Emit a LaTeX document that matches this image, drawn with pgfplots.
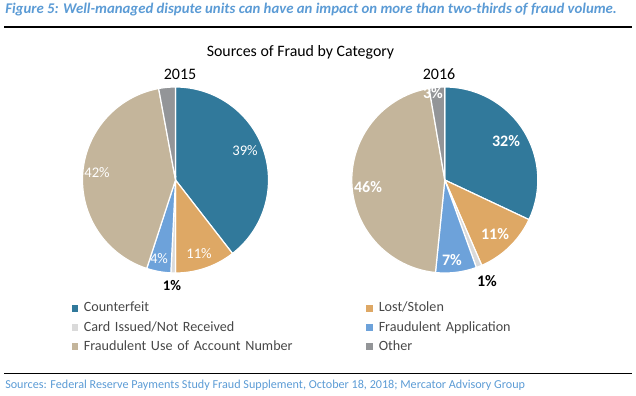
\documentclass[border=0pt]{standalone}
\usepackage{pgfplots}
\pgfplotsset{compat=1.18}
\usepackage{fontspec}
\setmainfont{Carlito}
\definecolor{cCounter}{HTML}{31799B}
\definecolor{cLost}{HTML}{DEA865}
\definecolor{cCard}{HTML}{DADADA}
\definecolor{cApp}{HTML}{6DA2DA}
\definecolor{cUse}{HTML}{C4B59B}
\definecolor{cOther}{HTML}{939598}
\definecolor{hdr}{HTML}{5B9BD5}
% slice: center x, center y, cumulative start (%), cumulative end (%), colour
\newcommand{\slice}[5]{%
  \addplot[fill=#5, draw=white, line width=0.9pt, domain={90-3.6*(#4)}:{90-3.6*(#3)},
    samples=80, variable=\t, forget plot]
    ({#1+93*cos(\t)},{#2+93*sin(\t)}) -- (axis cs:#1,#2) -- cycle;}
\begin{document}
\begin{tikzpicture}
\begin{axis}[width=477pt,height=297pt,scale only axis,
  xmin=0,xmax=636,ymin=0,ymax=396,axis lines=none,clip=false,
  legend columns=2,
  legend image code/.code={\fill[#1,draw=none] (0pt,-2.5pt) rectangle (5pt,2.5pt); \path (9pt,0pt);},
  legend style={draw=none,fill=none,inner sep=0pt,outer sep=0pt,
    at={(axis description cs:0.1125,0.2456)},anchor=north west,
    font=\fontsize{10.6}{12.5}\selectfont, text=black!72,
    nodes={anchor=west,inner xsep=0pt,inner ysep=1.9pt,text height=8pt,text depth=2.5pt,text width=212pt,align=left},
    row sep=0pt, column sep=0pt}]
\addlegendimage{fill=cCounter}\addlegendentry{Counterfeit}
\addlegendimage{fill=cLost}\addlegendentry{Lost/Stolen}
\addlegendimage{fill=cCard}\addlegendentry{Card Issued/Not Received}
\addlegendimage{fill=cApp}\addlegendentry{Fraudulent Application}
\addlegendimage{fill=cUse}\addlegendentry{Fraudulent Use of Account Number}
\addlegendimage{fill=cOther}\addlegendentry{Other}
% 2015: 39.5, 10.5, 0.8, 4.2, 42.1, 2.9
\slice{175.5}{216}{0}{39.5}{cCounter}
\slice{175.5}{216}{39.5}{39.5+10.5}{cLost}
\slice{175.5}{216}{50}{50+0.8}{cCard}
\slice{175.5}{216}{50.8}{50.8+4.2}{cApp}
\slice{175.5}{216}{55}{55+42.1}{cUse}
\slice{175.5}{216}{97.1}{97.1+2.9}{cOther}
% 2016: 32.0, 11.5, 1.0, 7.1, 45.7, 2.7
\slice{444.8}{216}{0}{32.0}{cCounter}
\slice{444.8}{216}{32.0}{32.0+11.5}{cLost}
\slice{444.8}{216}{43.5}{43.5+1.0}{cCard}
\slice{444.8}{216}{44.5}{44.5+7.1}{cApp}
\slice{444.8}{216}{51.6}{51.6+45.7}{cUse}
\slice{444.8}{216}{97.3}{97.3+2.7}{cOther}
% labels 2015
\begin{scope}[every node/.style={font=\fontsize{11}{13}\selectfont,text=white,inner sep=0pt}]
\node at (axis cs:245,245) {39\%};
\node at (axis cs:199,142) {11\%};
\node at (axis cs:159,137) {4\%};
\node at (axis cs:97,223) {42\%};
\end{scope}
\begin{scope}[every node/.style={font=\bfseries\fontsize{12}{14}\selectfont,text=white,inner sep=0pt}]
\node at (axis cs:506,255) {32\%};
\node at (axis cs:495,162) {11\%};
\node at (axis cs:452,136) {7\%};
\node at (axis cs:368,209) {46\%};
\node at (axis cs:433,303) {3\%};
\end{scope}
\node[font=\bfseries\fontsize{11}{13}\selectfont,inner sep=0pt] at (axis cs:172,110) {1\%};
\node[font=\bfseries\fontsize{12}{14}\selectfont,inner sep=0pt] at (axis cs:487,115) {1\%};
\node[font=\fontsize{12}{14}\selectfont,inner sep=0pt] at (axis cs:180,322) {2015};
\node[font=\fontsize{12}{14}\selectfont,inner sep=0pt] at (axis cs:439,322) {2016};
\node[font=\fontsize{11.9}{14}\selectfont,inner sep=0pt] at (axis cs:300.5,344) {Sources of Fraud by Category};
\node[font=\bfseries\itshape\fontsize{11.1}{13}\selectfont,text=hdr,anchor=west,inner sep=0pt] at (axis cs:5,386) {Figure 5: Well-managed dispute units can have an impact on more than two-thirds of fraud volume.};
\draw[line width=0.9pt] (axis cs:4,369) -- (axis cs:632,369);
\draw[line width=0.6pt] (axis cs:4,23) -- (axis cs:632,23);
\node[font=\fontsize{9.1}{11}\selectfont,text=hdr,anchor=west,inner sep=0pt] at (axis cs:5,11) {Sources: Federal Reserve Payments Study Fraud Supplement, October 18, 2018; Mercator Advisory Group};
\end{axis}
\pgfresetboundingbox
\path (current axis.south west) rectangle (current axis.north east);
\end{tikzpicture}
\end{document}
